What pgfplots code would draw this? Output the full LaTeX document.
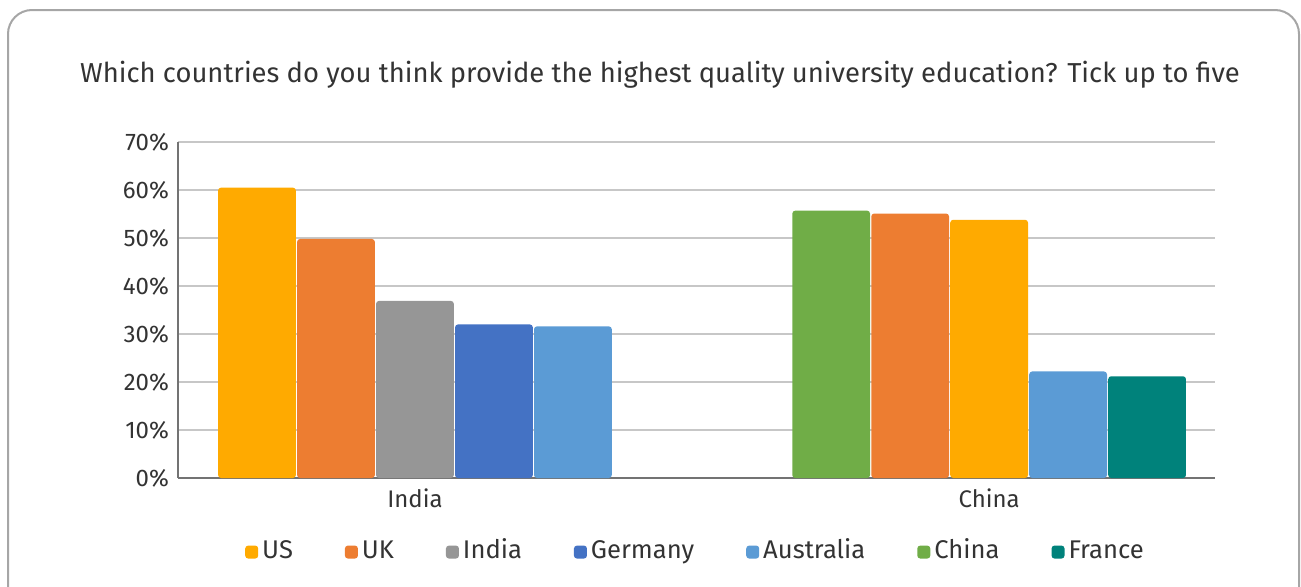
\documentclass[border=0pt]{standalone}
\usepackage{pgfplots}
\pgfplotsset{compat=1.18}
\usepackage{fontspec}
\setmainfont{Fira Sans}
\definecolor{cUS}{HTML}{FFAA00}
\definecolor{cUK}{HTML}{ED7D31}
\definecolor{cIN}{HTML}{969696}
\definecolor{cDE}{HTML}{4472C4}
\definecolor{cAU}{HTML}{5B9BD5}
\definecolor{cCN}{HTML}{70AD47}
\definecolor{cFR}{HTML}{00827B}
\definecolor{txt}{HTML}{333333}
\begin{document}
\begin{tikzpicture}
\useasboundingbox (0pt,0pt) rectangle (650.5pt,293pt);
\draw[color=black!35,line width=1pt,rounded corners=12pt] (4pt,288pt) rectangle (649.5pt,-15pt);
\node[text=txt,font=\fontsize{13.7}{16}\selectfont] at (330pt,255.5pt) {Which countries do you think provide the highest quality university education? Tick up to five};
\begin{axis}[
  at={(89pt,54pt)}, anchor=origin,
  scale only axis, width=518.5pt, height=168pt,
  ybar, bar width=0.985, bar shift=0pt,
  xmin=0, xmax=13.13, ymin=0, ymax=70,
  ytick={0,10,...,70},
  yticklabel={\pgfmathprintnumber{\tick}\%},
  xtick={3,10.27}, xticklabels={India,China},
  major tick length=0pt,
  axis x line*=bottom, axis y line*=left,
  axis line style={draw=black!55, line width=0.7pt},
  ymajorgrids, grid style={black!22, line width=0.6pt},
  tick label style={font=\fontsize{12}{14}\selectfont, text=txt},
  /pgf/number format/assume math mode=true,
  xticklabel style={yshift=-2pt},
  yticklabel style={xshift=-1pt},
  legend columns=-1,
  legend style={draw=none, at={(0.5,-0.16)}, anchor=north, font=\fontsize{12.8}{14}\selectfont, text=txt,
    nodes={text height=9pt, text depth=3pt},
    /tikz/every even column/.append style={column sep=24pt}},
  legend image code/.code={\fill (0pt,-3.2pt) rectangle (6.5pt,3.3pt);},
  every axis plot/.append style={draw=none, rounded corners=1.5pt},
]
\addplot[fill=cUS] coordinates {(1,60.5) (10.27,53.8)};
\addplot[fill=cUK] coordinates {(2,49.8) (9.27,55.1)};
\addplot[fill=cIN] coordinates {(3,36.9)};
\addplot[fill=cDE] coordinates {(4,32.0)};
\addplot[fill=cAU] coordinates {(5,31.6) (11.27,22.2)};
\addplot[fill=cCN] coordinates {(8.27,55.7)};
\addplot[fill=cFR] coordinates {(12.27,21.2)};
\legend{US,UK,India,Germany,Australia,China,France}
\end{axis}
\end{tikzpicture}
\end{document}
